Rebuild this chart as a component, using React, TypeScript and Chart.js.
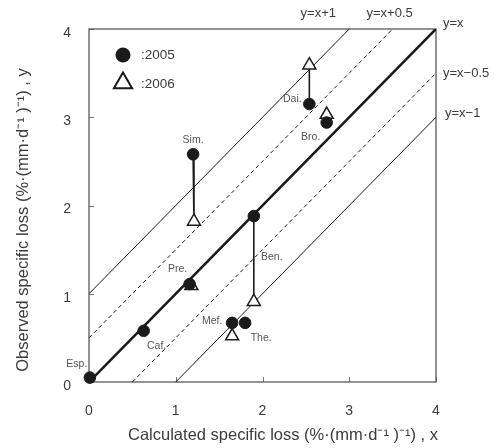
import React, { useEffect, useRef } from 'react';
import { Chart, registerables } from 'chart.js';

Chart.register(...registerables);

// ---- data ----
const SITES_2005 = ['Esp.', 'Caf.', 'Pre.', 'Sim.', 'Mef.', 'The.', 'Ben.', 'Dai.', 'Bro.'];
const CALC_2005 = [0.01, 0.63, 1.16, 1.2, 1.65, 1.8, 1.9, 2.54, 2.74];
const OBS_2005 = [0.05, 0.58, 1.11, 2.58, 0.67, 0.67, 1.88, 3.15, 2.94];

const SITES_2006 = ['Pre.', 'Sim.', 'Mef.', 'Ben.', 'Dai.', 'Bro.'];
const CALC_2006 = [1.18, 1.21, 1.65, 1.9, 2.54, 2.74];
const OBS_2006 = [1.09, 1.82, 0.52, 0.91, 3.59, 3.03];

const CONNECTED = ['Sim.', 'Ben.', 'Dai.'];

const REF_OFFSETS = [1, 0.5, 0, -0.5, -1];
const REF_LABELS = ['y=x+1', 'y=x+0.5', 'y=x', 'y=x\u22120.5', 'y=x\u22121'];

const AXIS_MIN = 0;
const AXIS_MAX = 4;
const TICK_STEP = 1;

const LEGEND_LABELS = [':2005', ':2006'];
const X_TITLE = 'Calculated specific loss (%\u00b7(mm\u00b7d\u207b\u00b9 )\u207b\u00b9) , x';
const Y_TITLE = 'Observed specific loss (%\u00b7(mm\u00b7d\u207b\u00b9 )\u207b\u00b9) , y';

// ---- label placement (pixel offsets, styling only) ----
const SITE_LABEL_OFFSETS: Record<string, [number, number]> = {
  'Esp.': [-13, -13],
  'Caf.': [13, 15],
  'Pre.': [-12, -15],
  'Sim.': [0, -14],
  'Mef.': [-20, -2],
  'The.': [16, 15],
  'Ben.': [18, 41],
  'Dai.': [-17, -5],
  'Bro.': [-16, 15],
};
const REF_LABEL_OFFSETS: [number, number, CanvasTextAlign][] = [
  [-31, -16, 'center'],
  [-3, -16, 'center'],
  [7, -6, 'left'],
  [7, 0, 'left'],
  [9, -4, 'left'],
];

const FONT = "'Liberation Sans', Arial, sans-serif";
const TEXT = '#3c3c3c';
const LABEL_TEXT = '#555';
const INK = '#1a1a1a';
const FRAME = '#5a5a5a';

export default function App() {
  const ref = useRef<HTMLCanvasElement>(null);

  useEffect(() => {
    document.body.style.margin = '0';
    const canvas = ref.current!;

    const refSets = REF_OFFSETS.map((c) => {
      const x0 = Math.max(AXIS_MIN, AXIS_MIN - c);
      const x1 = Math.min(AXIS_MAX, AXIS_MAX - c);
      return {
        data: [
          { x: x0, y: x0 + c },
          { x: x1, y: x1 + c },
        ],
        showLine: true,
        pointRadius: 0,
        borderColor: INK,
        borderWidth: c === 0 ? 2.6 : 1,
        borderDash: Math.abs(c) === 0.5 ? [4, 3] : [],
        order: 10,
      };
    });

    const connSets = CONNECTED.map((name) => {
      const i = SITES_2005.indexOf(name);
      const j = SITES_2006.indexOf(name);
      return {
        data: [
          { x: CALC_2005[i], y: OBS_2005[i] },
          { x: CALC_2006[j], y: OBS_2006[j] },
        ],
        showLine: true,
        pointRadius: 0,
        borderColor: INK,
        borderWidth: 1.6,
        order: 5,
      };
    });

    const circles = {
      data: CALC_2005.map((x, i) => ({ x, y: OBS_2005[i] })),
      pointStyle: 'circle',
      pointRadius: 5.8,
      backgroundColor: INK,
      borderColor: INK,
      borderWidth: 1,
      showLine: false,
      clip: false,
      order: 0,
    };
    const triangles = {
      data: CALC_2006.map((x, i) => ({ x, y: OBS_2006[i] })),
      pointStyle: 'triangle',
      pointRadius: 7.5,
      backgroundColor: '#ffffff',
      borderColor: INK,
      borderWidth: 1.5,
      showLine: false,
      clip: false,
      order: 1,
    };

    const overlay = {
      id: 'overlay',
      beforeDatasetsDraw(chart: any) {
        const { ctx, chartArea: a, scales } = chart;
        ctx.save();
        ctx.strokeStyle = '#777';
        ctx.lineWidth = 1;
        // inward tick marks
        scales.x.ticks.forEach((t: any) => {
          const px = Math.round(scales.x.getPixelForValue(t.value)) + 0.5;
          ctx.beginPath();
          ctx.moveTo(px, a.bottom);
          ctx.lineTo(px, a.bottom - 5);
          ctx.stroke();
        });
        scales.y.ticks.forEach((t: any) => {
          const py = Math.round(scales.y.getPixelForValue(t.value)) + 0.5;
          ctx.beginPath();
          ctx.moveTo(a.left, py);
          ctx.lineTo(a.left + 5, py);
          ctx.stroke();
        });
        // frame
        ctx.strokeStyle = FRAME;
        ctx.lineWidth = 1.3;
        ctx.strokeRect(a.left, a.top, a.right - a.left, a.bottom - a.top);
        ctx.restore();
      },
      afterDraw(chart: any) {
        const { ctx, chartArea: a, scales } = chart;
        const xs = scales.x;
        const ys = scales.y;
        ctx.save();

        // reference line labels
        ctx.fillStyle = TEXT;
        ctx.font = `13px ${FONT}`;
        ctx.textBaseline = 'middle';
        REF_OFFSETS.forEach((c, k) => {
          const x1 = Math.min(AXIS_MAX, AXIS_MAX - c);
          const px = xs.getPixelForValue(x1);
          const py = ys.getPixelForValue(x1 + c);
          const [dx, dy, al] = REF_LABEL_OFFSETS[k];
          ctx.textAlign = al;
          ctx.fillText(REF_LABELS[k], px + dx, py + dy);
        });

        // site labels
        ctx.fillStyle = LABEL_TEXT;
        ctx.font = `10.5px ${FONT}`;
        ctx.textAlign = 'center';
        SITES_2005.forEach((name, i) => {
          const px = xs.getPixelForValue(CALC_2005[i]);
          const py = ys.getPixelForValue(OBS_2005[i]);
          const [dx, dy] = SITE_LABEL_OFFSETS[name] || [0, -12];
          ctx.fillText(name, px + dx, py + dy);
        });

        // legend
        const lx = a.left + 34;
        const ly = a.top + 26;
        ctx.fillStyle = INK;
        ctx.beginPath();
        ctx.arc(lx, ly, 7.5, 0, Math.PI * 2);
        ctx.fill();
        const r = 10.5;
        const ty = ly + 28;
        ctx.beginPath();
        ctx.moveTo(lx, ty - r);
        ctx.lineTo(lx + r * Math.sin(Math.PI / 3), ty + r / 2);
        ctx.lineTo(lx - r * Math.sin(Math.PI / 3), ty + r / 2);
        ctx.closePath();
        ctx.fillStyle = '#fff';
        ctx.fill();
        ctx.strokeStyle = INK;
        ctx.lineWidth = 2;
        ctx.stroke();
        ctx.fillStyle = TEXT;
        ctx.font = `13.5px ${FONT}`;
        ctx.textAlign = 'left';
        ctx.fillText(LEGEND_LABELS[0], lx + 18, ly);
        ctx.fillText(LEGEND_LABELS[1], lx + 18, ty + 1);

        // axis titles
        ctx.fillStyle = TEXT;
        ctx.font = `16.5px ${FONT}`;
        ctx.textAlign = 'center';
        ctx.fillText(X_TITLE, 283, 435);
        ctx.save();
        ctx.translate(23, 220);
        ctx.rotate(-Math.PI / 2);
        ctx.textAlign = 'center';
        ctx.fillText(Y_TITLE, 0, 0);
        ctx.restore();
        ctx.restore();
      },
    };

    const tickFont = { family: FONT, size: 14 };
    const chart = new Chart(canvas, {
      type: 'scatter',
      data: { datasets: [circles, triangles, ...connSets, ...refSets] as any },
      options: {
        responsive: false,
        animation: false,
        events: [],
        layout: { padding: { top: 29, right: 58, left: 0, bottom: 0 } },
        plugins: { legend: { display: false }, tooltip: { enabled: false } },
        scales: {
          x: {
            type: 'linear',
            min: AXIS_MIN,
            max: AXIS_MAX,
            afterFit: (s: any) => {
              s.height = 66;
            },
            border: { display: false },
            grid: { display: false, drawOnChartArea: false, drawTicks: false },
            ticks: { stepSize: TICK_STEP, padding: 21, color: TEXT, font: tickFont, maxRotation: 0 },
          },
          y: {
            type: 'linear',
            min: AXIS_MIN,
            max: AXIS_MAX,
            afterFit: (s: any) => {
              s.width = 89;
            },
            border: { display: false },
            grid: { display: false, drawOnChartArea: false, drawTicks: false },
            ticks: { stepSize: TICK_STEP, padding: 18, labelOffset: 4, color: TEXT, font: tickFont },
          },
        },
      } as any,
      plugins: [overlay],
    });
    return () => chart.destroy();
  }, []);

  return (
    <div style={{ width: 494, height: 448, background: '#fff' }}>
      <canvas ref={ref} width={494} height={448} style={{ display: 'block', width: 494, height: 448 }} />
    </div>
  );
}
